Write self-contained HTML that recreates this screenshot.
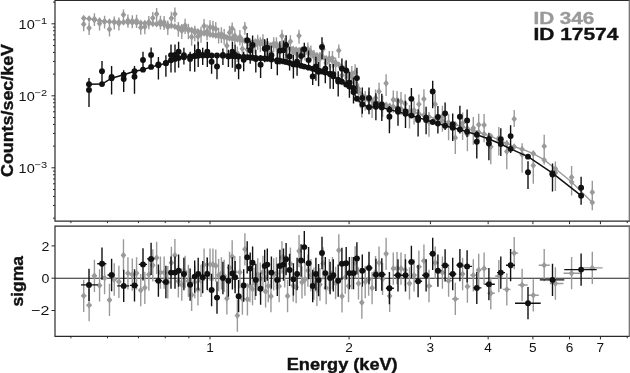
<!DOCTYPE html>
<html><head><meta charset="utf-8"><style>
html,body{margin:0;padding:0;background:#fff;}
svg{display:block;filter:grayscale(100%);}
</style></head><body>
<svg width="630" height="373" viewBox="0 0 630 373" font-family="Liberation Sans, sans-serif">
<rect width="630" height="373" fill="#fff"/>
<defs><clipPath id="ct"><rect x="55.0" y="0" width="574.3" height="221.1"/></clipPath><clipPath id="cb"><rect x="55.0" y="226.2" width="574.3" height="110.10000000000002"/></clipPath></defs><g clip-path="url(#ct)"><path d="M83.71 18.6V31.32M89.13 22.16V34.93M94.41 13.17V25.99M99.56 17.66V30.52M104.58 15.66V28.57M109.47 23.46V36.41M114.25 16.47V29.47M118.91 17.55V30.59M123.47 9.5V20.5M127.93 14.51V27.63M132.29 15.21V28.37M136.56 14.8V28.01M140.74 21.49V34.74M144.84 20.87V34.15M148.85 15.99V29.31M152.79 11.91V25.39M156.64 8.02V21.7M160.43 15.69V29.57M164.15 16.02V30.1M167.79 20.61V34.88M171.38 11.78V26.23M174.9 7.61V22.25M178.36 22V36.82M181.76 24.07V39.08M185.1 18.85V34.03M188.39 23.79V39.14M191.63 30.23V45.76M194.81 25.65V41.35M197.95 29.66V45.52M201.03 26.68V42.64M204.07 19.01V34.93M207.07 24.38V40.26M210.02 20.21V36.05M212.93 20.81V36.61M215.79 22.01V37.78M218.62 27.75V43.47M221.41 27.34V43.02M224.16 29.09V44.74M226.87 38.98V54.59M229.54 25.77V41.35M232.18 22.5V35.5M234.79 29.06V44.57M237.36 46.52V62M239.9 30.1V45.55M242.39 41.9V57.31M244.89 22V34.7M247.41 43.05V58.39M249.95 38.39V53.7M252.51 40.08V55.32M255.09 38.45V53.62M257.68 34.69V49.79M260.3 37.18V52.21M262.94 34.34V49.3M265.59 43.24V58.13M268.27 41.52V56.34M270.96 45.81V60.56M273.68 37.35V52.03M276.41 37.31V51.92M279.17 43.3V57.83M281.95 29.66V44.12M284.74 37.97V52.36M287.56 48.59V62.91M290.4 35.25V49.49M293.26 45.95V60.11M296.14 47.09V61.18M299.04 29.64V43.66M301.97 46.51V60.65M304.91 46.04V60.43M307.88 42.59V57.23M310.87 45.53V60.42M313.88 50.05V65.19M316.91 53.39V68.77M319.97 52V67.63M323.05 42.19V58.08M326.15 55.87V72.02M329.28 51.06V67.47M332.43 51.01V67.69M335.6 57.45V74.39M338.8 44.5V58M342.01 67.69V85.18M345.26 61.33V79.12M348.53 69.26V87.35M351.82 65.91V84.3M355.13 64.22V82.9M358.47 83.41V102.4M361.84 98.19V117.49M365.23 90.94V110.55M368.65 91.51V111.43M372.09 97.71V117.94M375.55 89.38V109.94M379.05 82.87V103.76M382.57 95.77V116.99M386.11 74.35V95.89M389.68 106.69V128.57M393.28 90.56V112.78M397.04 90.9V113.48M401 92.06V114.98M405.15 94.31V117.54M409.5 105.01V128.55M414.08 100.67V124.53M418.88 94.55V118.76M423.93 89.16V113.74M429 111.92V136.87M435.2 93.94V119.34M442.4 105.8V131.73M448.6 113.96V140.35M455.3 127.03V153.92M462.6 112.56V139.9M467.4 123.73V151.26M473.3 117.11V144.85M478.7 113.69V141.64M484.1 113.99V142.15M490.8 135.74V164.15M498.8 126.9V155.62M506.8 140.35V169.37M514.2 110V127M522.1 143.14V172.67M533.3 154.17V183.7M544.2 134.85V164.38M555.4 161.5V191.03M571.6 165.92V195.45M592.3 180.8V210.33" stroke="#9a9a9a" stroke-width="1.4" fill="none"/><path d="M83.71 20.82L86.51 24.32L83.71 27.82L80.91 24.32ZM89.13 24.4L91.93 27.9L89.13 31.4L86.33 27.9ZM94.41 15.43L97.21 18.93L94.41 22.43L91.61 18.93ZM99.56 19.94L102.36 23.44L99.56 26.94L96.76 23.44ZM104.58 17.95L107.38 21.45L104.58 24.95L101.78 21.45ZM109.47 25.77L112.27 29.27L109.47 32.77L106.67 29.27ZM114.25 18.8L117.05 22.3L114.25 25.8L111.45 22.3ZM118.91 19.9L121.71 23.4L118.91 26.9L116.11 23.4ZM123.47 11.3L126.27 14.8L123.47 18.3L120.67 14.8ZM127.93 16.89L130.73 20.39L127.93 23.89L125.13 20.39ZM132.29 17.6L135.09 21.1L132.29 24.6L129.49 21.1ZM136.56 17.21L139.36 20.71L136.56 24.21L133.76 20.71ZM140.74 23.92L143.54 27.42L140.74 30.92L137.94 27.42ZM144.84 23.31L147.64 26.81L144.84 30.31L142.04 26.81ZM148.85 18.45L151.65 21.95L148.85 25.45L146.05 21.95ZM152.79 14.43L155.59 17.93L152.79 21.43L149.99 17.93ZM156.64 10.62L159.44 14.12L156.64 17.62L153.84 14.12ZM160.43 18.37L163.23 21.87L160.43 25.37L157.63 21.87ZM164.15 18.78L166.95 22.28L164.15 25.78L161.35 22.28ZM167.79 23.44L170.59 26.94L167.79 30.44L164.99 26.94ZM171.38 14.68L174.18 18.18L171.38 21.68L168.58 18.18ZM174.9 10.58L177.7 14.08L174.9 17.58L172.1 14.08ZM178.36 25.04L181.16 28.54L178.36 32.04L175.56 28.54ZM181.76 27.18L184.56 30.68L181.76 34.18L178.96 30.68ZM185.1 22.03L187.9 25.53L185.1 29.03L182.3 25.53ZM188.39 27.03L191.19 30.53L188.39 34.03L185.59 30.53ZM191.63 33.54L194.43 37.04L191.63 40.54L188.83 37.04ZM194.81 29.02L197.61 32.52L194.81 36.02L192.01 32.52ZM197.95 33.09L200.75 36.59L197.95 40.09L195.15 36.59ZM201.03 30.15L203.83 33.65L201.03 37.15L198.23 33.65ZM204.07 22.47L206.87 25.97L204.07 29.47L201.27 25.97ZM207.07 27.82L209.87 31.32L207.07 34.82L204.27 31.32ZM210.02 23.64L212.82 27.14L210.02 30.64L207.22 27.14ZM212.93 24.22L215.73 27.72L212.93 31.22L210.13 27.72ZM215.79 25.41L218.59 28.91L215.79 32.41L212.99 28.91ZM218.62 31.13L221.42 34.63L218.62 38.13L215.82 34.63ZM221.41 30.71L224.21 34.21L221.41 37.71L218.61 34.21ZM224.16 32.44L226.96 35.94L224.16 39.44L221.36 35.94ZM226.87 42.32L229.67 45.82L226.87 49.32L224.07 45.82ZM229.54 29.1L232.34 32.6L229.54 36.1L226.74 32.6ZM232.18 25L234.98 28.5L232.18 32L229.38 28.5ZM234.79 32.37L237.59 35.87L234.79 39.37L231.99 35.87ZM237.36 49.81L240.16 53.31L237.36 56.81L234.56 53.31ZM239.9 33.38L242.7 36.88L239.9 40.38L237.1 36.88ZM242.39 45.17L245.19 48.67L242.39 52.17L239.59 48.67ZM244.89 24.2L247.69 27.7L244.89 31.2L242.09 27.7ZM247.41 46.29L250.21 49.79L247.41 53.29L244.61 49.79ZM249.95 41.62L252.75 45.12L249.95 48.62L247.15 45.12ZM252.51 43.28L255.31 46.78L252.51 50.28L249.71 46.78ZM255.09 41.63L257.89 45.13L255.09 48.63L252.29 45.13ZM257.68 37.84L260.48 41.34L257.68 44.84L254.88 41.34ZM260.3 40.3L263.1 43.8L260.3 47.3L257.5 43.8ZM262.94 37.43L265.74 40.93L262.94 44.43L260.14 40.93ZM265.59 46.31L268.39 49.81L265.59 53.31L262.79 49.81ZM268.27 44.56L271.07 48.06L268.27 51.56L265.47 48.06ZM270.96 48.83L273.76 52.33L270.96 55.83L268.16 52.33ZM273.68 40.34L276.48 43.84L273.68 47.34L270.88 43.84ZM276.41 40.27L279.21 43.77L276.41 47.27L273.61 43.77ZM279.17 46.23L281.97 49.73L279.17 53.23L276.37 49.73ZM281.95 32.56L284.75 36.06L281.95 39.56L279.15 36.06ZM284.74 40.85L287.54 44.35L284.74 47.85L281.94 44.35ZM287.56 51.44L290.36 54.94L287.56 58.44L284.76 54.94ZM290.4 38.06L293.2 41.56L290.4 45.06L287.6 41.56ZM293.26 48.73L296.06 52.23L293.26 55.73L290.46 52.23ZM296.14 49.85L298.94 53.35L296.14 56.85L293.34 53.35ZM299.04 32.37L301.84 35.87L299.04 39.37L296.24 35.87ZM301.97 49.29L304.77 52.79L301.97 56.29L299.17 52.79ZM304.91 48.91L307.71 52.41L304.91 55.91L302.11 52.41ZM307.88 45.56L310.68 49.06L307.88 52.56L305.08 49.06ZM310.87 48.6L313.67 52.1L310.87 55.6L308.07 52.1ZM313.88 53.21L316.68 56.71L313.88 60.21L311.08 56.71ZM316.91 56.64L319.71 60.14L316.91 63.64L314.11 60.14ZM319.97 55.35L322.77 58.85L319.97 62.35L317.17 58.85ZM323.05 45.64L325.85 49.14L323.05 52.64L320.25 49.14ZM326.15 59.42L328.95 62.92L326.15 66.42L323.35 62.92ZM329.28 54.7L332.08 58.2L329.28 61.7L326.48 58.2ZM332.43 54.75L335.23 58.25L332.43 61.75L329.63 58.25ZM335.6 61.29L338.4 64.79L335.6 68.29L332.8 64.79ZM338.8 47.1L341.6 50.6L338.8 54.1L336 50.6ZM342.01 71.73L344.81 75.23L342.01 78.73L339.21 75.23ZM345.26 65.48L348.06 68.98L345.26 72.48L342.46 68.98ZM348.53 73.51L351.33 77.01L348.53 80.51L345.73 77.01ZM351.82 70.27L354.62 73.77L351.82 77.27L349.02 73.77ZM355.13 68.68L357.93 72.18L355.13 75.68L352.33 72.18ZM358.47 87.99L361.27 91.49L358.47 94.99L355.67 91.49ZM361.84 102.87L364.64 106.37L361.84 109.87L359.04 106.37ZM365.23 95.73L368.03 99.23L365.23 102.73L362.43 99.23ZM368.65 96.41L371.45 99.91L368.65 103.41L365.85 99.91ZM372.09 102.72L374.89 106.22L372.09 109.72L369.29 106.22ZM375.55 94.5L378.35 98L375.55 101.5L372.75 98ZM379.05 88.1L381.85 91.6L379.05 95.1L376.25 91.6ZM382.57 101.12L385.37 104.62L382.57 108.12L379.77 104.62ZM386.11 79.8L388.91 83.3L386.11 86.8L383.31 83.3ZM389.68 112.25L392.48 115.75L389.68 119.25L386.88 115.75ZM393.28 96.24L396.08 99.74L393.28 103.24L390.48 99.74ZM397.04 96.7L399.84 100.2L397.04 103.7L394.24 100.2ZM401 97.97L403.8 101.47L401 104.97L398.2 101.47ZM405.15 100.32L407.95 103.82L405.15 107.32L402.35 103.82ZM409.5 111.12L412.3 114.62L409.5 118.12L406.7 114.62ZM414.08 106.87L416.88 110.37L414.08 113.87L411.28 110.37ZM418.88 100.86L421.68 104.36L418.88 107.86L416.08 104.36ZM423.93 95.6L426.73 99.1L423.93 102.6L421.13 99.1ZM429 118.47L431.8 121.97L429 125.47L426.2 121.97ZM435.2 100.63L438 104.13L435.2 107.63L432.4 104.13ZM442.4 112.65L445.2 116.15L442.4 119.65L439.6 116.15ZM448.6 120.95L451.4 124.45L448.6 127.95L445.8 124.45ZM455.3 134.17L458.1 137.67L455.3 141.17L452.5 137.67ZM462.6 119.83L465.4 123.33L462.6 126.83L459.8 123.33ZM467.4 131.06L470.2 134.56L467.4 138.06L464.6 134.56ZM473.3 124.5L476.1 128L473.3 131.5L470.5 128ZM478.7 121.14L481.5 124.64L478.7 128.14L475.9 124.64ZM484.1 121.5L486.9 125L484.1 128.5L481.3 125ZM490.8 143.32L493.6 146.82L490.8 150.32L488 146.82ZM498.8 134.58L501.6 138.08L498.8 141.58L496 138.08ZM506.8 148.11L509.6 151.61L506.8 155.11L504 151.61ZM514.2 115.6L517 119.1L514.2 122.6L511.4 119.1ZM522.1 151.04L524.9 154.54L522.1 158.04L519.3 154.54ZM533.3 162.07L536.1 165.57L533.3 169.07L530.5 165.57ZM544.2 142.75L547 146.25L544.2 149.75L541.4 146.25ZM555.4 169.4L558.2 172.9L555.4 176.4L552.6 172.9ZM571.6 173.82L574.4 177.32L571.6 180.82L568.8 177.32ZM592.3 188.7L595.1 192.2L592.3 195.7L589.5 192.2Z" fill="#9a9a9a"/><path d="M83.71 18.14L89.13 18.83L94.41 19.88L99.56 20.73L104.58 21.53L109.47 21.69L114.25 21.78L118.91 22L123.47 22.22L127.93 22.41L132.29 22.58L136.56 22.75L140.74 22.91L144.84 23.14L148.85 23.45L152.79 23.75L156.64 24.04L160.43 24.35L164.15 24.8L167.79 25.24L171.38 25.78L174.9 26.48L178.36 27.17L181.76 27.85L185.1 28.52L188.39 29.28L191.63 30.02L194.81 30.76L197.95 31.6L201.03 32.43L204.07 33.25L207.07 33.9L210.02 34.47L212.93 35.02L215.79 35.58L218.62 36.1L221.41 36.57L224.16 37.03L226.87 37.48L229.54 37.92L232.18 38.41L234.79 38.89L237.36 39.37L239.9 39.85L242.39 40.31L244.89 40.78L247.41 41.23L249.95 41.69L252.51 42.15L255.09 42.62L257.68 43.08L260.3 43.55L262.94 43.94L265.59 44.34L268.27 44.74L270.96 45.14L273.68 45.55L276.41 45.96L279.17 46.38L281.95 46.89L284.74 47.45L287.56 48.01L290.4 48.58L293.26 49.15L296.14 49.73L299.04 50.31L301.97 51.04L304.91 51.85L307.88 52.67L310.87 53.49L313.88 54.32L316.91 55.15L319.97 55.99L323.05 57.22L326.15 58.46L329.28 59.71L332.43 60.97L335.6 62.42L338.8 64.66L342.01 66.91L345.26 69.3L348.53 73.03L351.82 76.79L355.13 82.64L358.47 88.65L361.84 94.71L365.23 97.02L368.65 99.15L372.09 100.73L375.55 101.94L379.05 103.17L382.57 104.14L386.11 105.03L389.68 105.92L393.28 106.82L397.04 107.76L401 108.78L405.15 109.96L409.5 111.19L414.08 112.49L418.88 113.85L423.93 115.28L429 116.72L435.2 118.56L442.4 120.72L448.6 122.58L455.3 124.59L462.6 126.87L467.4 128.47L473.3 130.43L478.7 132.23L484.1 134.03L490.8 136.35L498.8 139.87L506.8 143.39L514.2 146.65L522.1 149.22L533.3 153.61L544.2 159.93L555.4 168.68L571.6 181.9L592.3 202.5" stroke="#9a9a9a" stroke-width="1.4" fill="none"/><path d="M83.71 14.64L86.51 18.14L83.71 21.64L80.91 18.14ZM89.13 15.33L91.93 18.83L89.13 22.33L86.33 18.83ZM94.41 16.38L97.21 19.88L94.41 23.38L91.61 19.88ZM99.56 17.23L102.36 20.73L99.56 24.23L96.76 20.73ZM104.58 18.03L107.38 21.53L104.58 25.03L101.78 21.53ZM109.47 18.19L112.27 21.69L109.47 25.19L106.67 21.69ZM114.25 18.28L117.05 21.78L114.25 25.28L111.45 21.78ZM118.91 18.5L121.71 22L118.91 25.5L116.11 22ZM123.47 18.72L126.27 22.22L123.47 25.72L120.67 22.22ZM127.93 18.91L130.73 22.41L127.93 25.91L125.13 22.41ZM132.29 19.08L135.09 22.58L132.29 26.08L129.49 22.58ZM136.56 19.25L139.36 22.75L136.56 26.25L133.76 22.75ZM140.74 19.41L143.54 22.91L140.74 26.41L137.94 22.91ZM144.84 19.64L147.64 23.14L144.84 26.64L142.04 23.14ZM148.85 19.95L151.65 23.45L148.85 26.95L146.05 23.45ZM152.79 20.25L155.59 23.75L152.79 27.25L149.99 23.75ZM156.64 20.54L159.44 24.04L156.64 27.54L153.84 24.04ZM160.43 20.85L163.23 24.35L160.43 27.85L157.63 24.35ZM164.15 21.3L166.95 24.8L164.15 28.3L161.35 24.8ZM167.79 21.74L170.59 25.24L167.79 28.74L164.99 25.24ZM171.38 22.28L174.18 25.78L171.38 29.28L168.58 25.78ZM174.9 22.98L177.7 26.48L174.9 29.98L172.1 26.48ZM178.36 23.67L181.16 27.17L178.36 30.67L175.56 27.17ZM181.76 24.35L184.56 27.85L181.76 31.35L178.96 27.85ZM185.1 25.02L187.9 28.52L185.1 32.02L182.3 28.52ZM188.39 25.78L191.19 29.28L188.39 32.78L185.59 29.28ZM191.63 26.52L194.43 30.02L191.63 33.52L188.83 30.02ZM194.81 27.26L197.61 30.76L194.81 34.26L192.01 30.76ZM197.95 28.1L200.75 31.6L197.95 35.1L195.15 31.6ZM201.03 28.93L203.83 32.43L201.03 35.93L198.23 32.43ZM204.07 29.75L206.87 33.25L204.07 36.75L201.27 33.25ZM207.07 30.4L209.87 33.9L207.07 37.4L204.27 33.9ZM210.02 30.97L212.82 34.47L210.02 37.97L207.22 34.47ZM212.93 31.52L215.73 35.02L212.93 38.52L210.13 35.02ZM215.79 32.08L218.59 35.58L215.79 39.08L212.99 35.58ZM218.62 32.6L221.42 36.1L218.62 39.6L215.82 36.1ZM221.41 33.07L224.21 36.57L221.41 40.07L218.61 36.57ZM224.16 33.53L226.96 37.03L224.16 40.53L221.36 37.03ZM226.87 33.98L229.67 37.48L226.87 40.98L224.07 37.48ZM229.54 34.42L232.34 37.92L229.54 41.42L226.74 37.92ZM232.18 34.91L234.98 38.41L232.18 41.91L229.38 38.41ZM234.79 35.39L237.59 38.89L234.79 42.39L231.99 38.89ZM237.36 35.87L240.16 39.37L237.36 42.87L234.56 39.37ZM239.9 36.35L242.7 39.85L239.9 43.35L237.1 39.85ZM242.39 36.81L245.19 40.31L242.39 43.81L239.59 40.31ZM244.89 37.28L247.69 40.78L244.89 44.28L242.09 40.78ZM247.41 37.73L250.21 41.23L247.41 44.73L244.61 41.23ZM249.95 38.19L252.75 41.69L249.95 45.19L247.15 41.69ZM252.51 38.65L255.31 42.15L252.51 45.65L249.71 42.15ZM255.09 39.12L257.89 42.62L255.09 46.12L252.29 42.62ZM257.68 39.58L260.48 43.08L257.68 46.58L254.88 43.08ZM260.3 40.05L263.1 43.55L260.3 47.05L257.5 43.55ZM262.94 40.44L265.74 43.94L262.94 47.44L260.14 43.94ZM265.59 40.84L268.39 44.34L265.59 47.84L262.79 44.34ZM268.27 41.24L271.07 44.74L268.27 48.24L265.47 44.74ZM270.96 41.64L273.76 45.14L270.96 48.64L268.16 45.14ZM273.68 42.05L276.48 45.55L273.68 49.05L270.88 45.55ZM276.41 42.46L279.21 45.96L276.41 49.46L273.61 45.96ZM279.17 42.88L281.97 46.38L279.17 49.88L276.37 46.38ZM281.95 43.39L284.75 46.89L281.95 50.39L279.15 46.89ZM284.74 43.95L287.54 47.45L284.74 50.95L281.94 47.45ZM287.56 44.51L290.36 48.01L287.56 51.51L284.76 48.01ZM290.4 45.08L293.2 48.58L290.4 52.08L287.6 48.58ZM293.26 45.65L296.06 49.15L293.26 52.65L290.46 49.15ZM296.14 46.23L298.94 49.73L296.14 53.23L293.34 49.73ZM299.04 46.81L301.84 50.31L299.04 53.81L296.24 50.31ZM301.97 47.54L304.77 51.04L301.97 54.54L299.17 51.04ZM304.91 48.35L307.71 51.85L304.91 55.35L302.11 51.85ZM307.88 49.17L310.68 52.67L307.88 56.17L305.08 52.67ZM310.87 49.99L313.67 53.49L310.87 56.99L308.07 53.49ZM313.88 50.82L316.68 54.32L313.88 57.82L311.08 54.32ZM316.91 51.65L319.71 55.15L316.91 58.65L314.11 55.15ZM319.97 52.49L322.77 55.99L319.97 59.49L317.17 55.99ZM323.05 53.72L325.85 57.22L323.05 60.72L320.25 57.22ZM326.15 54.96L328.95 58.46L326.15 61.96L323.35 58.46ZM329.28 56.21L332.08 59.71L329.28 63.21L326.48 59.71ZM332.43 57.47L335.23 60.97L332.43 64.47L329.63 60.97ZM335.6 58.92L338.4 62.42L335.6 65.92L332.8 62.42ZM338.8 61.16L341.6 64.66L338.8 68.16L336 64.66ZM342.01 63.41L344.81 66.91L342.01 70.41L339.21 66.91ZM345.26 65.8L348.06 69.3L345.26 72.8L342.46 69.3ZM348.53 69.53L351.33 73.03L348.53 76.53L345.73 73.03ZM351.82 73.29L354.62 76.79L351.82 80.29L349.02 76.79ZM355.13 79.14L357.93 82.64L355.13 86.14L352.33 82.64ZM358.47 85.15L361.27 88.65L358.47 92.15L355.67 88.65ZM361.84 91.21L364.64 94.71L361.84 98.21L359.04 94.71ZM365.23 93.52L368.03 97.02L365.23 100.52L362.43 97.02ZM368.65 95.65L371.45 99.15L368.65 102.65L365.85 99.15ZM372.09 97.23L374.89 100.73L372.09 104.23L369.29 100.73ZM375.55 98.44L378.35 101.94L375.55 105.44L372.75 101.94ZM379.05 99.67L381.85 103.17L379.05 106.67L376.25 103.17ZM382.57 100.64L385.37 104.14L382.57 107.64L379.77 104.14ZM386.11 101.53L388.91 105.03L386.11 108.53L383.31 105.03ZM389.68 102.42L392.48 105.92L389.68 109.42L386.88 105.92ZM393.28 103.32L396.08 106.82L393.28 110.32L390.48 106.82ZM397.04 104.26L399.84 107.76L397.04 111.26L394.24 107.76ZM401 105.28L403.8 108.78L401 112.28L398.2 108.78ZM405.15 106.46L407.95 109.96L405.15 113.46L402.35 109.96ZM409.5 107.69L412.3 111.19L409.5 114.69L406.7 111.19ZM414.08 108.99L416.88 112.49L414.08 115.99L411.28 112.49ZM418.88 110.35L421.68 113.85L418.88 117.35L416.08 113.85ZM423.93 111.78L426.73 115.28L423.93 118.78L421.13 115.28ZM429 113.22L431.8 116.72L429 120.22L426.2 116.72ZM435.2 115.06L438 118.56L435.2 122.06L432.4 118.56ZM442.4 117.22L445.2 120.72L442.4 124.22L439.6 120.72ZM448.6 119.08L451.4 122.58L448.6 126.08L445.8 122.58ZM455.3 121.09L458.1 124.59L455.3 128.09L452.5 124.59ZM462.6 123.37L465.4 126.87L462.6 130.37L459.8 126.87ZM467.4 124.97L470.2 128.47L467.4 131.97L464.6 128.47ZM473.3 126.93L476.1 130.43L473.3 133.93L470.5 130.43ZM478.7 128.73L481.5 132.23L478.7 135.73L475.9 132.23ZM484.1 130.53L486.9 134.03L484.1 137.53L481.3 134.03ZM490.8 132.85L493.6 136.35L490.8 139.85L488 136.35ZM498.8 136.37L501.6 139.87L498.8 143.37L496 139.87ZM506.8 139.89L509.6 143.39L506.8 146.89L504 143.39ZM514.2 143.15L517 146.65L514.2 150.15L511.4 146.65ZM522.1 145.72L524.9 149.22L522.1 152.72L519.3 149.22ZM533.3 150.11L536.1 153.61L533.3 157.11L530.5 153.61ZM544.2 156.43L547 159.93L544.2 163.43L541.4 159.93ZM555.4 165.18L558.2 168.68L555.4 172.18L552.6 168.68ZM571.6 178.4L574.4 181.9L571.6 185.4L568.8 181.9ZM592.3 199L595.1 202.5L592.3 206L589.5 202.5Z" fill="#9a9a9a"/><path d="M89 78.1V106.9M102 61V83.95M111.6 66V94.4M123.7 70.3V92.1M134.5 66V93.8M143 51.8V69.66M151.1 47.4V64.5M158.4 57V79.4M165.9 55.3V76.7M171 44.4V72.5M175 44.4V72.5M178.6 41.7V67.8M183.9 47.7V64.5M190.1 51.7V71.2M194.7 44.4V71.8M198.2 41.7V67.1M202.7 47.7V65.1M207.3 41.7V67.1M211.6 55V73.8M217 56.4V79.2M222.9 48.4V65.1M228.4 49.7V67.1M232.4 41.7V67.8M235.1 44.4V71.8M238.6 56V79.2M243.7 51.7V71.2M247.2 33V49M250.2 40.84V63.69M252.6 35.49V58.35M255.8 49.65V72.5M260.6 55.25V78.12M264.7 39.35V62.31M267.3 38.34V61.37M271.4 45.85V68.97M277.3 51.93V75.19M279.9 41.24V64.57M283.5 40.6V64.01M286.1 35.3V58.78M289.6 46.89V70.45M293.4 54.97V78.62M297.1 52.01V75.75M301.1 47.4V66.7M304.3 42.7V57M308.6 50.6V69.9M312.7 68.3V85M315.9 56.63V80.82M318.6 61.93V86.19M322 37.2V58.9M325.3 58.68V83.23M330.1 63.93V88.71M333.3 64.11V89.04M338.2 71.36V96.54M341.9 58.49V83.85M346.2 60.24V85.8M349.4 72.11V97.83M353.5 77.51V103.44M356.9 67.72V93.82M362.3 87.43V113.79M369 87.44V114.14M375.9 93.31V120.35M381.8 93.67V120.92M389.4 105.96V133.23M398 98.56V125.87M405.5 100.68V128.01M411.4 88.07V115.42M418.1 109.15V136.53M426.1 106.84V134.24M432.7 80.7V108.13M437.9 106.12V133.56M445.1 102.52V129.99M452.7 113.45V140.94M459.9 105.87V133.39M467.1 109.58V137.12M476.8 130.85V158.42M488.9 132.66V160.28M500.8 128.31V155.97M510.6 125.22V152.91M528 161.35V189.1M552.5 163.59V191.43M581.1 176.84V204.77" stroke="#111" stroke-width="1.4" fill="none"/><g fill="#111"><circle cx="89" cy="90" r="2.95"/><circle cx="102" cy="71.2" r="2.95"/><circle cx="111.6" cy="76.9" r="2.95"/><circle cx="123.7" cy="79" r="2.95"/><circle cx="134.5" cy="76.7" r="2.95"/><circle cx="143" cy="60" r="2.95"/><circle cx="151.1" cy="55" r="2.95"/><circle cx="158.4" cy="64.5" r="2.95"/><circle cx="165.9" cy="63" r="2.95"/><circle cx="171" cy="55.1" r="2.95"/><circle cx="175" cy="55" r="2.95"/><circle cx="178.6" cy="51.7" r="2.95"/><circle cx="183.9" cy="55.1" r="2.95"/><circle cx="190.1" cy="59.1" r="2.95"/><circle cx="194.7" cy="56" r="2.95"/><circle cx="198.2" cy="51.7" r="2.95"/><circle cx="202.7" cy="55" r="2.95"/><circle cx="207.3" cy="51.7" r="2.95"/><circle cx="211.6" cy="61.8" r="2.95"/><circle cx="217" cy="66.5" r="2.95"/><circle cx="222.9" cy="55" r="2.95"/><circle cx="228.4" cy="56.4" r="2.95"/><circle cx="232.4" cy="51.7" r="2.95"/><circle cx="235.1" cy="55" r="2.95"/><circle cx="238.6" cy="66.5" r="2.95"/><circle cx="243.7" cy="59.8" r="2.95"/><circle cx="247.2" cy="40.2" r="2.95"/><circle cx="250.2" cy="50.22" r="2.95"/><circle cx="252.6" cy="44.88" r="2.95"/><circle cx="255.8" cy="59.03" r="2.95"/><circle cx="260.6" cy="64.64" r="2.95"/><circle cx="264.7" cy="48.77" r="2.95"/><circle cx="267.3" cy="47.79" r="2.95"/><circle cx="271.4" cy="55.32" r="2.95"/><circle cx="277.3" cy="61.44" r="2.95"/><circle cx="279.9" cy="50.77" r="2.95"/><circle cx="283.5" cy="50.16" r="2.95"/><circle cx="286.1" cy="44.88" r="2.95"/><circle cx="289.6" cy="56.51" r="2.95"/><circle cx="293.4" cy="64.61" r="2.95"/><circle cx="297.1" cy="61.68" r="2.95"/><circle cx="301.1" cy="56" r="2.95"/><circle cx="304.3" cy="49.2" r="2.95"/><circle cx="308.6" cy="60.1" r="2.95"/><circle cx="312.7" cy="76.4" r="2.95"/><circle cx="315.9" cy="66.44" r="2.95"/><circle cx="318.6" cy="71.77" r="2.95"/><circle cx="322" cy="46.9" r="2.95"/><circle cx="325.3" cy="68.61" r="2.95"/><circle cx="330.1" cy="73.93" r="2.95"/><circle cx="333.3" cy="74.15" r="2.95"/><circle cx="338.2" cy="81.48" r="2.95"/><circle cx="341.9" cy="68.67" r="2.95"/><circle cx="346.2" cy="70.48" r="2.95"/><circle cx="349.4" cy="82.39" r="2.95"/><circle cx="353.5" cy="87.86" r="2.95"/><circle cx="356.9" cy="78.12" r="2.95"/><circle cx="362.3" cy="97.91" r="2.95"/><circle cx="369" cy="98.02" r="2.95"/><circle cx="375.9" cy="104" r="2.95"/><circle cx="381.8" cy="104.41" r="2.95"/><circle cx="389.4" cy="116.71" r="2.95"/><circle cx="398" cy="109.32" r="2.95"/><circle cx="405.5" cy="111.45" r="2.95"/><circle cx="411.4" cy="98.84" r="2.95"/><circle cx="418.1" cy="119.93" r="2.95"/><circle cx="426.1" cy="117.63" r="2.95"/><circle cx="432.7" cy="91.5" r="2.95"/><circle cx="437.9" cy="116.92" r="2.95"/><circle cx="445.1" cy="113.33" r="2.95"/><circle cx="452.7" cy="124.27" r="2.95"/><circle cx="459.9" cy="116.7" r="2.95"/><circle cx="467.1" cy="120.41" r="2.95"/><circle cx="476.8" cy="141.69" r="2.95"/><circle cx="488.9" cy="143.52" r="2.95"/><circle cx="500.8" cy="139.18" r="2.95"/><circle cx="510.6" cy="136.1" r="2.95"/><circle cx="528" cy="172.24" r="2.95"/><circle cx="552.5" cy="174.51" r="2.95"/><circle cx="581.1" cy="187.79" r="2.95"/></g><path d="M89 84.2L102 84.08L111.6 78.16L123.7 74.67L134.5 71.18L143 69.66L151.1 66.89L158.4 65.29L165.9 63.13L171 60.23L175 58.91L178.6 57.91L183.9 57.16L190.1 56.49L194.7 56.03L198.2 55.84L202.7 55.62L207.3 55.5L211.6 55.5L217 55.5L222.9 55.64L228.4 55.89L232.4 56.08L235.1 56.21L238.6 56.51L243.7 56.95L247.2 57.26L250.2 57.51L252.6 57.68L255.8 57.9L260.6 58.23L264.7 58.51L267.3 58.8L271.4 59.41L277.3 60.3L279.9 60.68L283.5 61.38L286.1 62.03L289.6 62.9L293.4 63.85L297.1 64.78L301.1 65.78L304.3 66.58L308.6 67.65L312.7 68.67L315.9 69.59L318.6 70.44L322 71.5L325.3 72.53L330.1 74.07L333.3 76.36L338.2 79.69L341.9 81.8L346.2 84.43L349.4 86.5L353.5 92L356.9 98.8L362.3 104.3L369 107.2L375.9 106.8L381.8 107.5L389.4 109.63L398 111.72L405.5 113.85L411.4 115.62L418.1 117.63L426.1 120.03L432.7 122.01L437.9 123.57L445.1 125.73L452.7 127.82L459.9 129.48L467.1 131.68L476.8 134.74L488.9 139.03L500.8 144.04L510.6 148.84L528 156.67L552.5 173.16L581.1 195.68" stroke="#111" stroke-width="1.5" fill="none"/><g fill="#111"><circle cx="89" cy="84.2" r="2.95"/><circle cx="102" cy="84.08" r="2.95"/><circle cx="111.6" cy="78.16" r="2.95"/><circle cx="123.7" cy="74.67" r="2.95"/><circle cx="134.5" cy="71.18" r="2.95"/><circle cx="143" cy="69.66" r="2.95"/><circle cx="151.1" cy="66.89" r="2.95"/><circle cx="158.4" cy="65.29" r="2.95"/><circle cx="165.9" cy="63.13" r="2.95"/><circle cx="171" cy="60.23" r="2.95"/><circle cx="175" cy="58.91" r="2.95"/><circle cx="178.6" cy="57.91" r="2.95"/><circle cx="183.9" cy="57.16" r="2.95"/><circle cx="190.1" cy="56.49" r="2.95"/><circle cx="194.7" cy="56.03" r="2.95"/><circle cx="198.2" cy="55.84" r="2.95"/><circle cx="202.7" cy="55.62" r="2.95"/><circle cx="207.3" cy="55.5" r="2.95"/><circle cx="211.6" cy="55.5" r="2.95"/><circle cx="217" cy="55.5" r="2.95"/><circle cx="222.9" cy="55.64" r="2.95"/><circle cx="228.4" cy="55.89" r="2.95"/><circle cx="232.4" cy="56.08" r="2.95"/><circle cx="235.1" cy="56.21" r="2.95"/><circle cx="238.6" cy="56.51" r="2.95"/><circle cx="243.7" cy="56.95" r="2.95"/><circle cx="247.2" cy="57.26" r="2.95"/><circle cx="250.2" cy="57.51" r="2.95"/><circle cx="252.6" cy="57.68" r="2.95"/><circle cx="255.8" cy="57.9" r="2.95"/><circle cx="260.6" cy="58.23" r="2.95"/><circle cx="264.7" cy="58.51" r="2.95"/><circle cx="267.3" cy="58.8" r="2.95"/><circle cx="271.4" cy="59.41" r="2.95"/><circle cx="277.3" cy="60.3" r="2.95"/><circle cx="279.9" cy="60.68" r="2.95"/><circle cx="283.5" cy="61.38" r="2.95"/><circle cx="286.1" cy="62.03" r="2.95"/><circle cx="289.6" cy="62.9" r="2.95"/><circle cx="293.4" cy="63.85" r="2.95"/><circle cx="297.1" cy="64.78" r="2.95"/><circle cx="301.1" cy="65.78" r="2.95"/><circle cx="304.3" cy="66.58" r="2.95"/><circle cx="308.6" cy="67.65" r="2.95"/><circle cx="312.7" cy="68.67" r="2.95"/><circle cx="315.9" cy="69.59" r="2.95"/><circle cx="318.6" cy="70.44" r="2.95"/><circle cx="322" cy="71.5" r="2.95"/><circle cx="325.3" cy="72.53" r="2.95"/><circle cx="330.1" cy="74.07" r="2.95"/><circle cx="333.3" cy="76.36" r="2.95"/><circle cx="338.2" cy="79.69" r="2.95"/><circle cx="341.9" cy="81.8" r="2.95"/><circle cx="346.2" cy="84.43" r="2.95"/><circle cx="349.4" cy="86.5" r="2.95"/><circle cx="353.5" cy="92" r="2.95"/><circle cx="356.9" cy="98.8" r="2.95"/><circle cx="362.3" cy="104.3" r="2.95"/><circle cx="369" cy="107.2" r="2.95"/><circle cx="375.9" cy="106.8" r="2.95"/><circle cx="381.8" cy="107.5" r="2.95"/><circle cx="389.4" cy="109.63" r="2.95"/><circle cx="398" cy="111.72" r="2.95"/><circle cx="405.5" cy="113.85" r="2.95"/><circle cx="411.4" cy="115.62" r="2.95"/><circle cx="418.1" cy="117.63" r="2.95"/><circle cx="426.1" cy="120.03" r="2.95"/><circle cx="432.7" cy="122.01" r="2.95"/><circle cx="437.9" cy="123.57" r="2.95"/><circle cx="445.1" cy="125.73" r="2.95"/><circle cx="452.7" cy="127.82" r="2.95"/><circle cx="459.9" cy="129.48" r="2.95"/><circle cx="467.1" cy="131.68" r="2.95"/><circle cx="476.8" cy="134.74" r="2.95"/><circle cx="488.9" cy="139.03" r="2.95"/><circle cx="500.8" cy="144.04" r="2.95"/><circle cx="510.6" cy="148.84" r="2.95"/><circle cx="528" cy="156.67" r="2.95"/><circle cx="552.5" cy="173.16" r="2.95"/><circle cx="581.1" cy="195.68" r="2.95"/></g></g><g clip-path="url(#cb)"><path d="M55.0 278.2H629.3" stroke="#222" stroke-width="1.1"/><path d="M83.71 279.65V311.95M81 295.8H86.42M89.13 289.05V321.35M86.42 305.2H91.77M94.41 259.65V291.95M91.77 275.8H96.99M99.56 269.25V301.55M96.99 285.4H102.07M104.58 261.85V294.15M102.07 278H107.02M109.47 283.75V316.05M107.02 299.9H111.86M114.25 263.35V295.65M111.86 279.5H116.58M118.91 265.65V297.95M116.58 281.8H121.19M123.47 239.15V271.45M121.19 255.3H125.7M127.93 257.15V289.45M125.7 273.3H130.11M132.29 258.45V290.75M130.11 274.6H134.43M136.56 257.15V289.45M134.43 273.3H138.65M140.74 274.05V306.35M138.65 290.2H142.79M144.84 271.65V303.95M142.79 287.8H146.85M148.85 258.45V290.75M146.85 274.6H150.82M152.79 249.13V281.43M150.82 265.28H154.72M156.64 241.65V273.95M154.72 257.8H158.54M160.43 256.4V288.7M158.54 272.55H162.29M164.15 256.4V288.7M162.29 272.55H165.97M167.79 266.09V298.39M165.97 282.24H169.59M171.38 246.71V279.01M169.59 262.86H173.14M174.9 239.05V271.35M173.14 255.2H176.63M178.36 265.15V297.45M176.63 281.3H180.06M181.76 268.55V300.85M180.06 284.7H183.43M185.1 255.86V288.16M183.43 272.01H186.75M188.39 264.79V297.09M186.75 280.94H190.01M191.63 278.75V311.05M190.01 294.9H193.22M194.81 265.87V298.17M193.22 282.02H196.38M197.95 273.31V305.61M196.38 289.46H199.49M201.03 264.63V296.93M199.49 280.78H202.55M204.07 248.58V280.88M202.55 264.73H205.57M207.07 256.91V289.21M205.57 273.06H208.54M210.02 248.45V280.75M208.54 264.6H211.47M212.93 248.45V280.75M211.47 264.6H214.36M215.79 249.49V281.79M214.36 265.64H217.21M218.62 259.04V291.34M217.21 275.19H220.01M221.41 257.27V289.57M220.01 273.42H222.78M224.16 259.81V292.11M222.78 275.96H225.51M226.87 282.23V314.53M225.51 298.38H228.2M229.54 251.69V283.99M228.2 267.84H230.86M232.18 240.35V272.65M230.86 256.5H233.49M234.79 255.92V288.22M233.49 272.07H236.07M237.36 299.45V331.75M236.07 315.6H238.63M239.9 256.01V288.31M238.63 272.16H241.14M242.39 282.54V314.84M241.14 298.69H243.64M244.89 233.15V265.45M243.64 249.3H246.15M247.41 283.17V315.47M246.15 299.32H248.68M249.95 269.85V302.15M248.68 286H251.23M252.51 272.83V305.13M251.23 288.98H253.8M255.09 267.72V300.02M253.8 283.87H256.39M257.68 258.35V290.65M256.39 274.5H258.99M260.3 262.61V294.91M258.99 278.76H261.62M262.94 255.74V288.04M261.62 271.89H264.26M265.59 275.25V307.55M264.26 291.4H266.93M268.27 269.83V302.13M266.93 285.98H269.62M270.96 280.05V312.35M269.62 296.2H272.32M273.68 258.31V290.61M272.32 274.46H275.05M276.41 257.28V289.58M275.05 273.43H277.79M279.17 270.06V302.36M277.79 286.21H280.56M281.95 241.25V273.55M280.56 257.4H283.34M284.74 255.31V287.61M283.34 271.46H286.15M287.56 279.85V312.15M286.15 296H288.98M290.4 247.55V279.85M288.98 263.7H291.83M293.26 269.56V301.86M291.83 285.71H294.7M296.14 271.01V303.31M294.7 287.16H297.59M299.04 234.95V267.25M297.59 251.1H300.5M301.97 266.22V298.52M300.5 282.37H303.44M304.91 263.34V295.64M303.44 279.49H306.4M307.88 254.39V286.69M306.4 270.54H309.37M310.87 259.04V291.34M309.37 275.19H312.37M313.88 267.47V299.77M312.37 283.62H315.4M316.91 273.64V305.94M315.4 289.79H318.44M319.97 268.36V300.66M318.44 284.51H321.51M323.05 247.26V279.56M321.51 263.41H324.6M326.15 271.84V304.14M324.6 287.99H327.72M329.28 259.09V291.39M327.72 275.24H330.85M332.43 256.88V289.18M330.85 273.03H334.01M335.6 266.85V299.15M334.01 283H337.2M338.8 234.15V266.45M337.2 250.3H340.41M342.01 280.09V312.39M340.41 296.24H343.64M345.26 261.46V293.76M343.64 277.61H346.89M348.53 269.85V302.15M346.89 286H350.17M351.82 256.85V289.15M350.17 273H353.48M355.13 246.23V278.53M353.48 262.38H356.8M358.47 267.25V299.55M356.8 283.4H360.16M361.84 286.45V318.75M360.16 302.6H363.54M365.23 265.95V298.25M363.54 282.1H366.94M368.65 263.34V295.64M366.94 279.49H370.37M372.09 271.95V304.25M370.37 288.1H373.82M375.55 256.03V288.33M373.82 272.18H377.3M379.05 246.55V278.85M377.3 262.7H380.81M382.57 262.8V295.1M380.81 278.95H384.34M386.11 237.65V269.95M384.34 253.8H387.9M389.68 279.79V312.09M387.9 295.94H391.48M393.28 252.45V284.75M391.48 268.6H395.16M397.04 252.02V284.32M395.16 268.17H399.02M401 252.45V284.75M399.02 268.6H403.07M405.15 253.94V286.24M403.07 270.09H407.32M409.5 267.25V299.55M407.32 283.4H411.79M414.08 259.15V291.45M411.79 275.3H416.48M418.88 250.59V282.89M416.48 266.74H421.4M423.93 244.6V276.9M421.4 260.75H426.46M429 269.85V302.15M426.46 286H432.1M435.2 246.55V278.85M432.1 262.7H438.8M442.4 256.45V288.75M438.8 272.6H445.5M448.6 264.55V296.85M445.5 280.7H451.95M455.3 282.75V315.05M451.95 298.9H458.95M462.6 257.85V290.15M458.95 274H465M467.4 270.45V302.75M465 286.6H470.35M473.3 259.15V291.45M470.35 275.3H476M478.7 253.75V286.05M476 269.9H481.4M484.1 252.45V284.75M481.4 268.6H487.45M490.8 277.15V309.45M487.45 293.3H494.8M498.8 259.95V292.25M494.8 276.1H502.8M506.8 273.25V305.55M502.8 289.4H510.5M514.2 236.95V269.25M510.5 253.1H518.15M522.1 268.85V301.15M518.15 285H527.7M533.3 279.15V311.45M527.7 295.3H538.75M544.2 249.05V281.35M538.75 265.2H549.8M555.4 267.35V299.65M549.8 283.5H563.5M571.6 257.05V289.35M563.5 273.2H581.95M592.3 251.75V284.05M581.95 267.9H602.65" stroke="#9a9a9a" stroke-width="1.4" fill="none"/><path d="M83.71 292.3L86.51 295.8L83.71 299.3L80.91 295.8ZM89.13 301.7L91.93 305.2L89.13 308.7L86.33 305.2ZM94.41 272.3L97.21 275.8L94.41 279.3L91.61 275.8ZM99.56 281.9L102.36 285.4L99.56 288.9L96.76 285.4ZM104.58 274.5L107.38 278L104.58 281.5L101.78 278ZM109.47 296.4L112.27 299.9L109.47 303.4L106.67 299.9ZM114.25 276L117.05 279.5L114.25 283L111.45 279.5ZM118.91 278.3L121.71 281.8L118.91 285.3L116.11 281.8ZM123.47 251.8L126.27 255.3L123.47 258.8L120.67 255.3ZM127.93 269.8L130.73 273.3L127.93 276.8L125.13 273.3ZM132.29 271.1L135.09 274.6L132.29 278.1L129.49 274.6ZM136.56 269.8L139.36 273.3L136.56 276.8L133.76 273.3ZM140.74 286.7L143.54 290.2L140.74 293.7L137.94 290.2ZM144.84 284.3L147.64 287.8L144.84 291.3L142.04 287.8ZM148.85 271.1L151.65 274.6L148.85 278.1L146.05 274.6ZM152.79 261.78L155.59 265.28L152.79 268.78L149.99 265.28ZM156.64 254.3L159.44 257.8L156.64 261.3L153.84 257.8ZM160.43 269.05L163.23 272.55L160.43 276.05L157.63 272.55ZM164.15 269.05L166.95 272.55L164.15 276.05L161.35 272.55ZM167.79 278.74L170.59 282.24L167.79 285.74L164.99 282.24ZM171.38 259.36L174.18 262.86L171.38 266.36L168.58 262.86ZM174.9 251.7L177.7 255.2L174.9 258.7L172.1 255.2ZM178.36 277.8L181.16 281.3L178.36 284.8L175.56 281.3ZM181.76 281.2L184.56 284.7L181.76 288.2L178.96 284.7ZM185.1 268.51L187.9 272.01L185.1 275.51L182.3 272.01ZM188.39 277.44L191.19 280.94L188.39 284.44L185.59 280.94ZM191.63 291.4L194.43 294.9L191.63 298.4L188.83 294.9ZM194.81 278.52L197.61 282.02L194.81 285.52L192.01 282.02ZM197.95 285.96L200.75 289.46L197.95 292.96L195.15 289.46ZM201.03 277.28L203.83 280.78L201.03 284.28L198.23 280.78ZM204.07 261.23L206.87 264.73L204.07 268.23L201.27 264.73ZM207.07 269.56L209.87 273.06L207.07 276.56L204.27 273.06ZM210.02 261.1L212.82 264.6L210.02 268.1L207.22 264.6ZM212.93 261.1L215.73 264.6L212.93 268.1L210.13 264.6ZM215.79 262.14L218.59 265.64L215.79 269.14L212.99 265.64ZM218.62 271.69L221.42 275.19L218.62 278.69L215.82 275.19ZM221.41 269.92L224.21 273.42L221.41 276.92L218.61 273.42ZM224.16 272.46L226.96 275.96L224.16 279.46L221.36 275.96ZM226.87 294.88L229.67 298.38L226.87 301.88L224.07 298.38ZM229.54 264.34L232.34 267.84L229.54 271.34L226.74 267.84ZM232.18 253L234.98 256.5L232.18 260L229.38 256.5ZM234.79 268.57L237.59 272.07L234.79 275.57L231.99 272.07ZM237.36 312.1L240.16 315.6L237.36 319.1L234.56 315.6ZM239.9 268.66L242.7 272.16L239.9 275.66L237.1 272.16ZM242.39 295.19L245.19 298.69L242.39 302.19L239.59 298.69ZM244.89 245.8L247.69 249.3L244.89 252.8L242.09 249.3ZM247.41 295.82L250.21 299.32L247.41 302.82L244.61 299.32ZM249.95 282.5L252.75 286L249.95 289.5L247.15 286ZM252.51 285.48L255.31 288.98L252.51 292.48L249.71 288.98ZM255.09 280.37L257.89 283.87L255.09 287.37L252.29 283.87ZM257.68 271L260.48 274.5L257.68 278L254.88 274.5ZM260.3 275.26L263.1 278.76L260.3 282.26L257.5 278.76ZM262.94 268.39L265.74 271.89L262.94 275.39L260.14 271.89ZM265.59 287.9L268.39 291.4L265.59 294.9L262.79 291.4ZM268.27 282.48L271.07 285.98L268.27 289.48L265.47 285.98ZM270.96 292.7L273.76 296.2L270.96 299.7L268.16 296.2ZM273.68 270.96L276.48 274.46L273.68 277.96L270.88 274.46ZM276.41 269.93L279.21 273.43L276.41 276.93L273.61 273.43ZM279.17 282.71L281.97 286.21L279.17 289.71L276.37 286.21ZM281.95 253.9L284.75 257.4L281.95 260.9L279.15 257.4ZM284.74 267.96L287.54 271.46L284.74 274.96L281.94 271.46ZM287.56 292.5L290.36 296L287.56 299.5L284.76 296ZM290.4 260.2L293.2 263.7L290.4 267.2L287.6 263.7ZM293.26 282.21L296.06 285.71L293.26 289.21L290.46 285.71ZM296.14 283.66L298.94 287.16L296.14 290.66L293.34 287.16ZM299.04 247.6L301.84 251.1L299.04 254.6L296.24 251.1ZM301.97 278.87L304.77 282.37L301.97 285.87L299.17 282.37ZM304.91 275.99L307.71 279.49L304.91 282.99L302.11 279.49ZM307.88 267.04L310.68 270.54L307.88 274.04L305.08 270.54ZM310.87 271.69L313.67 275.19L310.87 278.69L308.07 275.19ZM313.88 280.12L316.68 283.62L313.88 287.12L311.08 283.62ZM316.91 286.29L319.71 289.79L316.91 293.29L314.11 289.79ZM319.97 281.01L322.77 284.51L319.97 288.01L317.17 284.51ZM323.05 259.91L325.85 263.41L323.05 266.91L320.25 263.41ZM326.15 284.49L328.95 287.99L326.15 291.49L323.35 287.99ZM329.28 271.74L332.08 275.24L329.28 278.74L326.48 275.24ZM332.43 269.53L335.23 273.03L332.43 276.53L329.63 273.03ZM335.6 279.5L338.4 283L335.6 286.5L332.8 283ZM338.8 246.8L341.6 250.3L338.8 253.8L336 250.3ZM342.01 292.74L344.81 296.24L342.01 299.74L339.21 296.24ZM345.26 274.11L348.06 277.61L345.26 281.11L342.46 277.61ZM348.53 282.5L351.33 286L348.53 289.5L345.73 286ZM351.82 269.5L354.62 273L351.82 276.5L349.02 273ZM355.13 258.88L357.93 262.38L355.13 265.88L352.33 262.38ZM358.47 279.9L361.27 283.4L358.47 286.9L355.67 283.4ZM361.84 299.1L364.64 302.6L361.84 306.1L359.04 302.6ZM365.23 278.6L368.03 282.1L365.23 285.6L362.43 282.1ZM368.65 275.99L371.45 279.49L368.65 282.99L365.85 279.49ZM372.09 284.6L374.89 288.1L372.09 291.6L369.29 288.1ZM375.55 268.68L378.35 272.18L375.55 275.68L372.75 272.18ZM379.05 259.2L381.85 262.7L379.05 266.2L376.25 262.7ZM382.57 275.45L385.37 278.95L382.57 282.45L379.77 278.95ZM386.11 250.3L388.91 253.8L386.11 257.3L383.31 253.8ZM389.68 292.44L392.48 295.94L389.68 299.44L386.88 295.94ZM393.28 265.1L396.08 268.6L393.28 272.1L390.48 268.6ZM397.04 264.67L399.84 268.17L397.04 271.67L394.24 268.17ZM401 265.1L403.8 268.6L401 272.1L398.2 268.6ZM405.15 266.59L407.95 270.09L405.15 273.59L402.35 270.09ZM409.5 279.9L412.3 283.4L409.5 286.9L406.7 283.4ZM414.08 271.8L416.88 275.3L414.08 278.8L411.28 275.3ZM418.88 263.24L421.68 266.74L418.88 270.24L416.08 266.74ZM423.93 257.25L426.73 260.75L423.93 264.25L421.13 260.75ZM429 282.5L431.8 286L429 289.5L426.2 286ZM435.2 259.2L438 262.7L435.2 266.2L432.4 262.7ZM442.4 269.1L445.2 272.6L442.4 276.1L439.6 272.6ZM448.6 277.2L451.4 280.7L448.6 284.2L445.8 280.7ZM455.3 295.4L458.1 298.9L455.3 302.4L452.5 298.9ZM462.6 270.5L465.4 274L462.6 277.5L459.8 274ZM467.4 283.1L470.2 286.6L467.4 290.1L464.6 286.6ZM473.3 271.8L476.1 275.3L473.3 278.8L470.5 275.3ZM478.7 266.4L481.5 269.9L478.7 273.4L475.9 269.9ZM484.1 265.1L486.9 268.6L484.1 272.1L481.3 268.6ZM490.8 289.8L493.6 293.3L490.8 296.8L488 293.3ZM498.8 272.6L501.6 276.1L498.8 279.6L496 276.1ZM506.8 285.9L509.6 289.4L506.8 292.9L504 289.4ZM514.2 249.6L517 253.1L514.2 256.6L511.4 253.1ZM522.1 281.5L524.9 285L522.1 288.5L519.3 285ZM533.3 291.8L536.1 295.3L533.3 298.8L530.5 295.3ZM544.2 261.7L547 265.2L544.2 268.7L541.4 265.2ZM555.4 280L558.2 283.5L555.4 287L552.6 283.5ZM571.6 269.7L574.4 273.2L571.6 276.7L568.8 273.2ZM592.3 264.4L595.1 267.9L592.3 271.4L589.5 267.9Z" fill="#9a9a9a"/><path d="M89 268.75V301.05M81 284.9H97.9M102 247.55V279.85M97.2 263.7H106.3M111.6 258.85V291.15M107.5 275H114.8M123.7 269.75V302.05M117.2 285.9H129.2M134.5 269.25V301.55M130 285.4H138.1M143 248.25V280.55M138.75 264.4H147.05M151.1 242.75V275.05M147.05 258.9H154.75M158.4 264.55V296.85M154.75 280.7H162.15M165.9 265.85V298.15M162.15 282H168.45M171 256.45V288.75M168.45 272.6H173M175 256.45V288.75M173 272.6H176.8M178.6 254.55V286.85M176.8 270.7H181.25M183.9 257.85V290.15M181.25 274H187M190.1 268.55V300.85M187 284.7H192.4M194.7 260.45V292.75M192.4 276.6H196.45M198.2 257.85V290.15M196.45 274H200.45M202.7 261.05V293.35M200.45 277.2H205M207.3 257.85V290.15M205 274H209.45M211.6 273.85V306.15M209.45 290H214.3M217 281.45V313.75M214.3 297.6H219.95M222.9 261.85V294.15M219.95 278H225.65M228.4 264.55V296.85M225.65 280.7H230.4M232.4 257.25V289.55M230.4 273.4H233.75M235.1 261.05V293.35M233.75 277.2H236.85M238.6 280.05V312.35M236.85 296.2H241.15M243.7 269.35V301.65M241.15 285.5H245.45M247.2 241.15V273.45M245.45 257.3H248.7M250.2 252.45V284.75M248.7 268.6H251.4M252.6 246.55V278.85M251.4 262.7H254.2M255.8 263.75V296.05M254.2 279.9H258.2M260.6 272.55V304.85M258.2 288.7H262.65M264.7 249.75V282.05M262.65 265.9H266M267.3 248.45V280.75M266 264.6H269.35M271.4 256.45V288.75M269.35 272.6H274.35M277.3 263.75V296.05M274.35 279.9H278.6M279.9 249.75V282.05M278.6 265.9H281.7M283.5 248.45V280.75M281.7 264.6H284.8M286.1 243.05V275.35M284.8 259.2H287.85M289.6 253.75V286.05M287.85 269.9H291.5M293.4 263.15V295.45M291.5 279.3H295.25M297.1 257.85V290.15M295.25 274H299.1M301.1 244.35V276.65M299.1 260.5H302.7M304.3 230.95V263.25M302.7 247.1H306.45M308.6 247.05V279.35M306.45 263.2H310.65M312.7 269.85V302.15M310.65 286H314.3M315.9 257.85V290.15M314.3 274H317.25M318.6 263.95V296.25M317.25 280.1H320.3M322 236.85V269.15M320.3 253H323.65M325.3 256.95V289.25M323.65 273.1H327.7M330.1 261.85V294.15M327.7 278H331.7M333.3 259.15V291.45M331.7 275.3H335.75M338.2 264.55V296.85M335.75 280.7H340.05M341.9 247.65V279.95M340.05 263.8H344.05M346.2 247.05V279.35M344.05 263.2H347.8M349.4 256.95V289.25M347.8 273.1H351.45M353.5 256.95V289.25M351.45 273.1H355.2M356.9 242.25V274.55M355.2 258.4H359.6M362.3 254.55V286.85M359.6 270.7H365.65M369 251.85V284.15M365.65 268H372.45M375.9 258.65V290.95M372.45 274.8H378.85M381.8 258.35V290.65M378.85 274.5H385.6M389.4 272.05V304.35M385.9 288.2H393.9M398 259.15V291.45M393.7 275.3H401.75M405.5 259.15V291.45M401.75 275.3H408.45M411.4 245.75V278.05M408.45 261.9H414.75M418.1 265.05V297.35M414.75 281.2H422.1M426.1 259.15V291.45M422.1 275.3H429.4M432.7 237.65V269.95M429.4 253.8H435.3M437.9 254.55V286.85M435.3 270.7H441.5M445.1 249.25V281.55M441.5 265.4H448.9M452.7 257.85V290.15M448.9 274H456.3M459.9 248.95V281.25M456.3 265.1H463.5M467.1 250.25V282.55M463.5 266.4H471.95M476.8 271.75V304.05M473.3 287.9H481.4M488.9 268.05V300.35M484.6 284.2H494.8M500.8 256.45V288.75M497 272.6H505M510.6 249.05V281.35M506 265.2H515M528 287.05V319.35M515 303.2H540.7M552.5 263.75V296.05M539.8 279.9H564.3M581.1 253.45V285.75M564.3 269.6H596.7" stroke="#111" stroke-width="1.4" fill="none"/><g fill="#111"><circle cx="89" cy="284.9" r="2.95"/><circle cx="102" cy="263.7" r="2.95"/><circle cx="111.6" cy="275" r="2.95"/><circle cx="123.7" cy="285.9" r="2.95"/><circle cx="134.5" cy="285.4" r="2.95"/><circle cx="143" cy="264.4" r="2.95"/><circle cx="151.1" cy="258.9" r="2.95"/><circle cx="158.4" cy="280.7" r="2.95"/><circle cx="165.9" cy="282" r="2.95"/><circle cx="171" cy="272.6" r="2.95"/><circle cx="175" cy="272.6" r="2.95"/><circle cx="178.6" cy="270.7" r="2.95"/><circle cx="183.9" cy="274" r="2.95"/><circle cx="190.1" cy="284.7" r="2.95"/><circle cx="194.7" cy="276.6" r="2.95"/><circle cx="198.2" cy="274" r="2.95"/><circle cx="202.7" cy="277.2" r="2.95"/><circle cx="207.3" cy="274" r="2.95"/><circle cx="211.6" cy="290" r="2.95"/><circle cx="217" cy="297.6" r="2.95"/><circle cx="222.9" cy="278" r="2.95"/><circle cx="228.4" cy="280.7" r="2.95"/><circle cx="232.4" cy="273.4" r="2.95"/><circle cx="235.1" cy="277.2" r="2.95"/><circle cx="238.6" cy="296.2" r="2.95"/><circle cx="243.7" cy="285.5" r="2.95"/><circle cx="247.2" cy="257.3" r="2.95"/><circle cx="250.2" cy="268.6" r="2.95"/><circle cx="252.6" cy="262.7" r="2.95"/><circle cx="255.8" cy="279.9" r="2.95"/><circle cx="260.6" cy="288.7" r="2.95"/><circle cx="264.7" cy="265.9" r="2.95"/><circle cx="267.3" cy="264.6" r="2.95"/><circle cx="271.4" cy="272.6" r="2.95"/><circle cx="277.3" cy="279.9" r="2.95"/><circle cx="279.9" cy="265.9" r="2.95"/><circle cx="283.5" cy="264.6" r="2.95"/><circle cx="286.1" cy="259.2" r="2.95"/><circle cx="289.6" cy="269.9" r="2.95"/><circle cx="293.4" cy="279.3" r="2.95"/><circle cx="297.1" cy="274" r="2.95"/><circle cx="301.1" cy="260.5" r="2.95"/><circle cx="304.3" cy="247.1" r="2.95"/><circle cx="308.6" cy="263.2" r="2.95"/><circle cx="312.7" cy="286" r="2.95"/><circle cx="315.9" cy="274" r="2.95"/><circle cx="318.6" cy="280.1" r="2.95"/><circle cx="322" cy="253" r="2.95"/><circle cx="325.3" cy="273.1" r="2.95"/><circle cx="330.1" cy="278" r="2.95"/><circle cx="333.3" cy="275.3" r="2.95"/><circle cx="338.2" cy="280.7" r="2.95"/><circle cx="341.9" cy="263.8" r="2.95"/><circle cx="346.2" cy="263.2" r="2.95"/><circle cx="349.4" cy="273.1" r="2.95"/><circle cx="353.5" cy="273.1" r="2.95"/><circle cx="356.9" cy="258.4" r="2.95"/><circle cx="362.3" cy="270.7" r="2.95"/><circle cx="369" cy="268" r="2.95"/><circle cx="375.9" cy="274.8" r="2.95"/><circle cx="381.8" cy="274.5" r="2.95"/><circle cx="389.4" cy="288.2" r="2.95"/><circle cx="398" cy="275.3" r="2.95"/><circle cx="405.5" cy="275.3" r="2.95"/><circle cx="411.4" cy="261.9" r="2.95"/><circle cx="418.1" cy="281.2" r="2.95"/><circle cx="426.1" cy="275.3" r="2.95"/><circle cx="432.7" cy="253.8" r="2.95"/><circle cx="437.9" cy="270.7" r="2.95"/><circle cx="445.1" cy="265.4" r="2.95"/><circle cx="452.7" cy="274" r="2.95"/><circle cx="459.9" cy="265.1" r="2.95"/><circle cx="467.1" cy="266.4" r="2.95"/><circle cx="476.8" cy="287.9" r="2.95"/><circle cx="488.9" cy="284.2" r="2.95"/><circle cx="500.8" cy="272.6" r="2.95"/><circle cx="510.6" cy="265.2" r="2.95"/><circle cx="528" cy="303.2" r="2.95"/><circle cx="552.5" cy="279.9" r="2.95"/><circle cx="581.1" cy="269.6" r="2.95"/></g></g><path d="M629.3 0.5H55.0V221.1H629.3" fill="none" stroke="#2a2a2a" stroke-width="1.2" stroke-linecap="square"/><path d="M629.3 -0.09999999999999998V221.7" fill="none" stroke="#6a6a6a" stroke-width="1.2"/><path d="M629.3 226.2H55.0V336.3H629.3" fill="none" stroke="#2a2a2a" stroke-width="1.2" stroke-linecap="square"/><path d="M629.3 225.6V336.90000000000003" fill="none" stroke="#6a6a6a" stroke-width="1.2"/><path d="M70.92 336.3v2.0M70.92 221.1v2.0M107.51 336.3v2.0M107.51 221.1v2.0M138.44 336.3v2.0M138.44 221.1v2.0M165.23 336.3v2.0M165.23 221.1v2.0M188.86 336.3v2.0M188.86 221.1v2.0M349.08 336.3v3.1M349.08 221.1v3.1M430.43 336.3v3.1M430.43 221.1v3.1M488.15 336.3v3.1M488.15 221.1v3.1M532.92 336.3v3.1M532.92 221.1v3.1M569.51 336.3v3.1M569.51 221.1v3.1M600.44 336.3v3.1M600.44 221.1v3.1M627.23 336.3v2.0M627.23 221.1v2.0M210 336.3v3.1M210 221.1v3.1M55.0 23.8h-3.5M55.0 95.8h-3.5M55.0 167.8h-3.5M55.0 218.13h-2M55.0 205.45h-2M55.0 196.45h-2M55.0 189.47h-2M55.0 183.77h-2M55.0 178.95h-2M55.0 174.78h-2M55.0 171.09h-2M55.0 146.13h-2M55.0 133.45h-2M55.0 124.45h-2M55.0 117.47h-2M55.0 111.77h-2M55.0 106.95h-2M55.0 102.78h-2M55.0 99.09h-2M55.0 74.13h-2M55.0 61.45h-2M55.0 52.45h-2M55.0 45.47h-2M55.0 39.77h-2M55.0 34.95h-2M55.0 30.78h-2M55.0 27.09h-2M55.0 2.13h-2M55.0 310.5h-3.5M55.0 278.2h-3.5M55.0 245.9h-3.5" stroke="#2a2a2a" stroke-width="1"/><g font-family="Liberation Sans, sans-serif" fill="#111"><text x="210" y="352" text-anchor="middle" font-size="12.8" textLength="7.6" lengthAdjust="spacingAndGlyphs">1</text><text x="349.08" y="352" text-anchor="middle" font-size="12.8" textLength="7.6" lengthAdjust="spacingAndGlyphs">2</text><text x="430.43" y="352" text-anchor="middle" font-size="12.8" textLength="7.6" lengthAdjust="spacingAndGlyphs">3</text><text x="488.15" y="352" text-anchor="middle" font-size="12.8" textLength="7.6" lengthAdjust="spacingAndGlyphs">4</text><text x="532.92" y="352" text-anchor="middle" font-size="12.8" textLength="7.6" lengthAdjust="spacingAndGlyphs">5</text><text x="569.51" y="352" text-anchor="middle" font-size="12.8" textLength="7.6" lengthAdjust="spacingAndGlyphs">6</text><text x="600.44" y="352" text-anchor="middle" font-size="12.8" textLength="7.6" lengthAdjust="spacingAndGlyphs">7</text><text x="18.6" y="28.6" font-size="12.8" textLength="16.2" lengthAdjust="spacingAndGlyphs">10</text><text x="34.6" y="24.3" font-size="9.2" textLength="12.6" lengthAdjust="spacingAndGlyphs">−1</text><text x="18.6" y="100.6" font-size="12.8" textLength="16.2" lengthAdjust="spacingAndGlyphs">10</text><text x="34.6" y="96.3" font-size="9.2" textLength="12.6" lengthAdjust="spacingAndGlyphs">−2</text><text x="18.6" y="172.6" font-size="12.8" textLength="16.2" lengthAdjust="spacingAndGlyphs">10</text><text x="34.6" y="168.3" font-size="9.2" textLength="12.6" lengthAdjust="spacingAndGlyphs">−3</text><text x="49.3" y="250.5" text-anchor="end" font-size="12.8" textLength="7.9" lengthAdjust="spacingAndGlyphs">2</text><text x="49.3" y="282.8" text-anchor="end" font-size="12.8" textLength="7.9" lengthAdjust="spacingAndGlyphs">0</text><text x="49.3" y="315.1" text-anchor="end" font-size="12.8" textLength="18.2" lengthAdjust="spacingAndGlyphs">−2</text><text x="342.2" y="370" text-anchor="middle" font-size="16.3" font-weight="bold" stroke="#111" stroke-width="0.4" textLength="111" lengthAdjust="spacingAndGlyphs">Energy (keV)</text><text transform="translate(12.6,110.5) rotate(-90)" text-anchor="middle" font-size="16.3" font-weight="bold" stroke="#111" stroke-width="0.4" textLength="133" lengthAdjust="spacingAndGlyphs">Counts/sec/keV</text><text transform="translate(23.2,281.3) rotate(-90)" text-anchor="middle" font-size="16.3" font-weight="bold" stroke="#111" stroke-width="0.4" textLength="50.5" lengthAdjust="spacingAndGlyphs">sigma</text><text x="533.4" y="23.9" font-size="16.8" font-weight="bold" fill="#999" stroke="#999" stroke-width="0.35" textLength="61" lengthAdjust="spacingAndGlyphs">ID 346</text><text x="533.4" y="40.1" font-size="16.8" font-weight="bold" fill="#111" stroke="#111" stroke-width="0.35" textLength="85" lengthAdjust="spacingAndGlyphs">ID 17574</text></g>
</svg>
</body></html>
